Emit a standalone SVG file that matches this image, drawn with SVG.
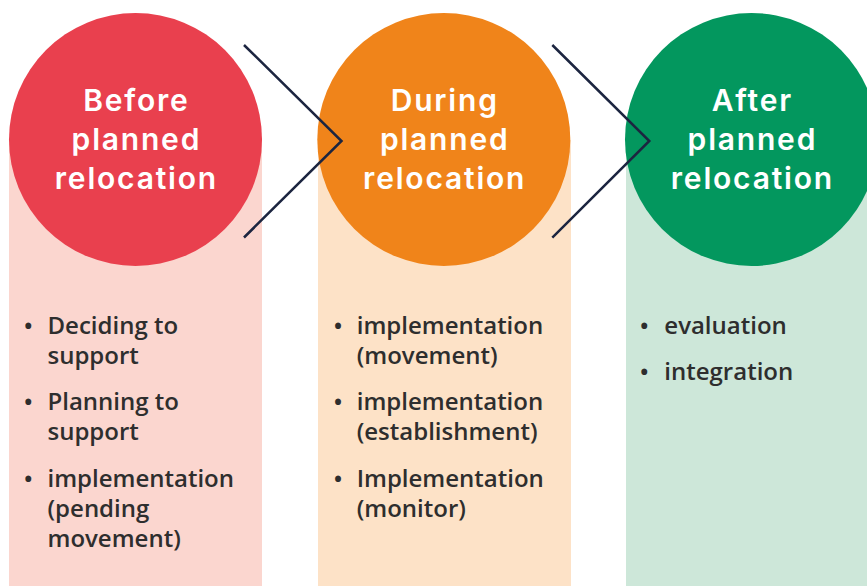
<svg xmlns="http://www.w3.org/2000/svg" width="867" height="586" viewBox="0 0 867 586">
  <style>
    .title { font-family: Inter, "Noto Sans", "Liberation Sans", sans-serif; font-weight: 600; font-size: 30px; fill: #ffffff; text-anchor: middle; letter-spacing: 1.8px; }
    .item { font-family: "Open Sans", "Noto Sans", "Liberation Sans", sans-serif; font-weight: 600; font-size: 24px; fill: #2e2e2e; }
    .bullet { font-family: "Open Sans", "Noto Sans", "Liberation Sans", sans-serif; font-weight: 600; font-size: 24px; fill: #2e2e2e; text-anchor: middle; }
    .chev { fill: none; stroke: #1c2540; stroke-width: 2.5; stroke-linecap: butt; stroke-linejoin: miter; }
  </style>
  <rect width="867" height="586" fill="#ffffff"/>

  <g id="stage-before">
    <rect x="9" y="140" width="253" height="450" fill="#fbd6cf"/>
    <circle cx="135.5" cy="139.5" r="126.5" fill="#e9404e"/>
    <text class="title" x="136.4" y="111">Before</text>
    <text class="title" x="136.4" y="150">planned</text>
    <text class="title" x="136.4" y="189">relocation</text>
    <text class="bullet" x="28.3" y="334">•</text>
    <text class="item" x="47.5" y="334">Deciding to</text>
    <text class="item" x="47.5" y="364">support</text>
    <text class="bullet" x="28.3" y="410">•</text>
    <text class="item" x="47.5" y="410">Planning to</text>
    <text class="item" x="47.5" y="440">support</text>
    <text class="bullet" x="28.3" y="487">•</text>
    <text class="item" x="47.5" y="487">implementation</text>
    <text class="item" x="47.5" y="517">(pending</text>
    <text class="item" x="47.5" y="547">movement)</text>
  </g>

  <g id="stage-during">
    <rect x="318" y="140" width="253" height="450" fill="#fde2c7"/>
    <circle cx="443.8" cy="139.5" r="126.5" fill="#f0841a"/>
    <text class="title" x="444.7" y="111">During</text>
    <text class="title" x="444.7" y="150">planned</text>
    <text class="title" x="444.7" y="189">relocation</text>
    <text class="bullet" x="338" y="334">•</text>
    <text class="item" x="356.7" y="334">implementation</text>
    <text class="item" x="356.7" y="364">(movement)</text>
    <text class="bullet" x="338" y="410">•</text>
    <text class="item" x="356.7" y="410">implementation</text>
    <text class="item" x="356.7" y="440">(establishment)</text>
    <text class="bullet" x="338" y="487">•</text>
    <text class="item" x="356.7" y="487">Implementation</text>
    <text class="item" x="356.7" y="517">(monitor)</text>
  </g>

  <g id="stage-after">
    <rect x="626" y="140" width="260" height="450" fill="#cde7d9"/>
    <circle cx="751.5" cy="139.5" r="126.5" fill="#03975e"/>
    <text class="title" x="752.4" y="111">After</text>
    <text class="title" x="752.4" y="150">planned</text>
    <text class="title" x="752.4" y="189">relocation</text>
    <text class="bullet" x="644.2" y="334">•</text>
    <text class="item" x="664.3" y="334">evaluation</text>
    <text class="bullet" x="644.2" y="380">•</text>
    <text class="item" x="664.3" y="380">integration</text>
  </g>

  <g id="connectors">
    <polyline class="chev" points="244,45 341.5,141 244,237.5"/>
    <polyline class="chev" points="552.3,45 649.3,141 552.3,237.7"/>
  </g>
</svg>
